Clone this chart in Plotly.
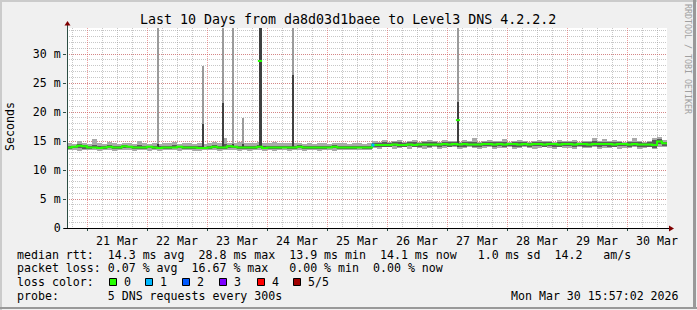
import plotly.graph_objects as go
import pandas as pd

# ---------------- data ----------------
TITLE = "Last 10 Days from da8d03d1baee to Level3 DNS 4.2.2.2"
START = "2026-03-20 16:00"
END = "2026-03-30 16:00"
STEP = "2h"

Y_TICKS = [0, 5, 10, 15, 20, 25, 30]
Y_TICK_TEXT = ["0", "5 m", "10 m", "15 m", "20 m", "25 m", "30 m"]

# median rtt (ms), one value per 2 hours
median = [
    13.9, 14.0, 14.2, 14.1, 13.9, 13.9, 13.8, 13.9, 14.0, 13.9, 13.9, 14.1,
    14.0, 13.9, 13.9, 13.9, 14.0, 13.9, 13.8, 13.9, 13.9, 13.9, 14.0, 13.9,
    13.9, 13.9, 13.8, 13.8, 13.9, 14.0, 13.9, 13.9, 14.1, 14.0, 13.9, 13.9,
    13.9, 13.9, 14.0, 13.8, 13.9, 13.9, 13.9, 13.9, 13.9, 13.9, 14.0, 13.9,
    13.9, 13.9, 13.9, 13.9, 13.9, 14.0, 13.9, 13.9, 13.9, 13.9, 13.9, 13.9,
    13.9, 14.3, 14.3, 14.3, 14.3, 14.4, 14.3, 14.3, 14.4, 14.3, 14.4, 14.4,
    14.4, 14.4, 14.4, 14.5, 14.4, 14.5, 14.4, 14.5, 14.4, 14.4, 14.4, 14.5,
    14.5, 14.4, 14.5, 14.4, 14.5, 14.5, 14.4, 14.5, 14.4, 14.5, 14.5, 14.4,
    14.5, 14.5, 14.4, 14.5, 14.5, 14.4, 14.5, 14.5, 14.4, 14.5, 14.5, 14.5,
    14.5, 14.4, 14.5, 14.5, 14.4, 14.5, 14.4, 14.4, 14.4, 14.3, 14.9, 14.6,
]
# outer smoke (fastest / slowest ping)
smoke_lo_outer = [
    13.4, 13.5, 13.3, 13.5, 13.4, 13.4, 13.3, 13.5, 13.4, 13.3, 13.5, 13.4,
    13.4, 13.3, 13.5, 13.4, 13.3, 13.4, 13.3, 13.5, 13.4, 13.4, 13.3, 13.4,
    13.5, 13.3, 13.3, 13.4, 13.4, 13.5, 13.3, 13.4, 13.4, 13.5, 13.3, 13.4,
    13.3, 13.4, 13.5, 13.3, 13.4, 13.3, 13.4, 13.5, 13.3, 13.4, 13.4, 13.3,
    13.4, 13.5, 13.3, 13.4, 13.4, 13.3, 13.5, 13.4, 13.4, 13.5, 13.4, 13.5,
    13.4, 13.8, 13.7, 13.9, 13.9, 13.7, 13.8, 13.9, 13.7, 13.9, 13.8, 13.7,
    13.8, 13.9, 13.7, 13.8, 13.9, 13.9, 13.7, 13.8, 13.9, 13.8, 13.7, 13.8,
    13.9, 13.7, 13.8, 13.8, 13.9, 13.7, 13.8, 13.9, 13.8, 13.7, 13.8, 13.9,
    13.8, 13.7, 13.9, 13.8, 13.8, 13.7, 13.9, 13.8, 13.8, 13.9, 13.7, 13.8,
    13.8, 13.9, 13.7, 13.8, 13.8, 13.9, 13.7, 13.8, 13.9, 13.7, 14.0, 13.9,
]
smoke_hi_outer = [
    14.6, 14.5, 15.0, 14.7, 14.5, 15.4, 14.6, 14.5, 14.8, 14.6, 14.5, 14.7,
    14.6, 14.5, 15.0, 14.6, 14.5, 14.7, 14.5, 14.6, 14.6, 14.8, 14.5, 14.6,
    14.6, 14.5, 14.7, 14.5, 14.6, 14.9, 14.6, 15.5, 14.7, 14.6, 14.8, 14.6,
    14.7, 14.6, 14.9, 14.6, 14.6, 14.8, 14.7, 14.6, 14.6, 14.7, 14.6, 14.5,
    14.6, 14.5, 14.7, 14.6, 14.5, 14.6, 14.6, 14.7, 14.5, 14.6, 14.6, 14.5,
    14.6, 15.0, 14.9, 15.1, 14.9, 15.0, 15.2, 14.9, 15.0, 15.1, 14.9, 15.0,
    15.1, 15.0, 14.9, 15.2, 15.0, 15.0, 14.9, 15.1, 15.0, 15.5, 14.9, 15.0,
    15.1, 15.0, 15.0, 15.3, 14.9, 15.0, 15.1, 15.0, 14.9, 15.0, 15.1, 15.0,
    15.0, 14.9, 15.1, 15.0, 15.0, 15.1, 14.9, 15.0, 15.0, 15.5, 15.0, 15.4,
    15.0, 15.1, 15.0, 14.9, 15.0, 15.5, 15.0, 14.9, 15.0, 15.6, 15.7, 15.1,
]
# inner smoke (2nd / 4th ping)
smoke_lo_inner = [
    13.7, 13.8, 13.8, 13.7, 13.7, 13.8, 13.6, 13.7, 13.8, 13.7, 13.7, 13.8,
    13.8, 13.7, 13.7, 13.7, 13.8, 13.7, 13.6, 13.7, 13.7, 13.8, 13.8, 13.7,
    13.7, 13.7, 13.6, 13.6, 13.7, 13.8, 13.7, 13.7, 13.8, 13.8, 13.7, 13.7,
    13.7, 13.7, 13.8, 13.6, 13.7, 13.7, 13.7, 13.8, 13.7, 13.7, 13.8, 13.7,
    13.7, 13.7, 13.7, 13.7, 13.8, 13.8, 13.7, 13.7, 13.7, 13.7, 13.8, 13.7,
    13.7, 14.0, 13.9, 14.0, 14.0, 14.1, 13.9, 14.0, 14.1, 13.9, 14.0, 14.1,
    14.0, 14.1, 14.0, 14.1, 14.0, 14.1, 14.0, 14.0, 14.1, 14.0, 14.0, 14.1,
    14.1, 14.0, 14.1, 14.0, 14.1, 14.0, 14.0, 14.1, 14.0, 14.1, 14.1, 14.0,
    14.1, 14.0, 14.0, 14.1, 14.1, 14.0, 14.1, 14.0, 14.0, 14.1, 14.0, 14.1,
    14.0, 14.0, 14.1, 14.1, 14.0, 14.1, 14.0, 14.0, 14.0, 13.8, 14.4, 14.1,
]
smoke_hi_inner = [
    14.2, 14.2, 14.4, 14.3, 14.1, 14.3, 14.1, 14.2, 14.3, 14.2, 14.1, 14.3,
    14.2, 14.1, 14.3, 14.1, 14.2, 14.2, 14.1, 14.2, 14.1, 14.3, 14.2, 14.1,
    14.2, 14.1, 14.2, 14.0, 14.1, 14.3, 14.1, 14.4, 14.3, 14.2, 14.2, 14.1,
    14.2, 14.1, 14.3, 14.1, 14.2, 14.2, 14.1, 14.2, 14.1, 14.2, 14.3, 14.1,
    14.1, 14.2, 14.1, 14.2, 14.2, 14.3, 14.1, 14.2, 14.1, 14.1, 14.2, 14.1,
    14.1, 14.7, 14.7, 14.8, 14.7, 14.8, 14.8, 14.7, 14.8, 14.8, 14.7, 14.8,
    14.8, 14.8, 14.7, 14.9, 14.8, 14.8, 14.7, 14.8, 14.8, 14.9, 14.7, 14.8,
    14.9, 14.8, 14.8, 14.9, 14.7, 14.8, 14.9, 14.8, 14.7, 14.8, 14.9, 14.8,
    14.8, 14.7, 14.9, 14.8, 14.8, 14.9, 14.7, 14.8, 14.8, 15.0, 14.8, 14.9,
    14.8, 14.9, 14.8, 14.7, 14.8, 14.9, 14.8, 14.7, 14.8, 15.2, 15.3, 14.8,
]

# short latency spikes
spike_time = ["2026-03-22 04:24", "2026-03-22 22:24", "2026-03-23 06:24",
              "2026-03-23 10:24", "2026-03-23 14:24", "2026-03-23 21:12",
              "2026-03-24 10:24", "2026-03-27 04:24"]
spike_outer = [40.0, 28.0, 40.0, 40.0, 19.0, 40.0, 40.0, 40.0]
spike_inner = [14.5, 17.9, 21.5, 14.5, 14.5, 40.0, 26.3, 21.8]
spike_median = [None, None, None, None, None, 28.8, None, 18.6]
spike_wide = [False, False, False, False, False, True, False, False]

loss_time = ["2026-03-25 18:24"]
loss_value = [14.3]

LEGEND_ROW1 = "median rtt:  14.3 ms avg  28.8 ms max  13.9 ms min  14.1 ms now   1.0 ms sd  14.2   am/s"
LEGEND_ROW2 = "packet loss: 0.07 % avg  16.67 % max   0.00 % min  0.00 % now"
LOSS_TITLE = "loss color:"
LOSS_LABELS = ["0", "1", "2", "3", "4", "5/5"]
LOSS_COLORS = ["#26ff00", "#00b8ff", "#0059ff", "#7e00ff", "#ff0000", "#a00000"]
LOSS_BOX_X = [109, 145, 182, 219, 257, 293]
PROBE_ROW = "probe:       5 DNS requests every 300s"
DATE_TEXT = "Mon Mar 30 15:57:02 2026"
SIDE_TEXT = "RRDTOOL / TOBI OETIKER"

# ---------------- layout helpers ----------------
W, H = 697, 310
L, R, T, B = 67, 30, 28, 82
PW, PH = W - L - R, H - T - B
MONO = "DejaVu Sans Mono"
FS = 11.6


def px(x):
    return (x - L) / PW


def py(y):
    return (H - B - y) / PH


def keep_spaces(s):
    return s.replace(" ", "\u00a0")


HOUR = 3600 * 1000
starts = pd.date_range(START, periods=len(median), freq=STEP)
centers = starts + pd.Timedelta(hours=1)
bar_w = 2 * HOUR

fig = go.Figure()

fig.add_trace(go.Bar(
    x=centers, base=smoke_lo_outer,
    y=[h - l for h, l in zip(smoke_hi_outer, smoke_lo_outer)],
    width=bar_w, marker=dict(color="#a9a9a9", line_width=0), hoverinfo="skip"))
fig.add_trace(go.Bar(
    x=centers, base=smoke_lo_inner,
    y=[h - l for h, l in zip(smoke_hi_inner, smoke_lo_inner)],
    width=bar_w, marker=dict(color="#5c5c5c", line_width=0), hoverinfo="skip"))

spike_w = [1.2 * HOUR if w else 0.45 * HOUR for w in spike_wide]
spike_base = 14.0
fig.add_trace(go.Bar(
    x=pd.to_datetime(spike_time), base=spike_base,
    y=[v - spike_base for v in spike_outer], width=spike_w,
    marker=dict(color="#9a9a9a", line_width=0), hoverinfo="skip"))
fig.add_trace(go.Bar(
    x=pd.to_datetime(spike_time), base=spike_base,
    y=[v - spike_base for v in spike_inner], width=spike_w,
    marker=dict(color="#404040", line_width=0), hoverinfo="skip"))

fig.add_trace(go.Scatter(
    x=list(starts) + [pd.Timestamp(END)], y=median + [median[-1]],
    mode="lines", line=dict(color="#26ff00", width=2, shape="hv"),
    hoverinfo="skip"))
fig.add_trace(go.Scatter(
    x=pd.to_datetime(spike_time), y=spike_median, mode="markers",
    marker=dict(symbol="line-ew", size=3, line=dict(color="#26ff00", width=2)),
    hoverinfo="skip"))
fig.add_trace(go.Scatter(
    x=pd.to_datetime(loss_time), y=loss_value, mode="markers",
    marker=dict(symbol="square", size=3, color="#00b8ff", line_width=0),
    hoverinfo="skip"))

fig.update_layout(
    width=W, height=H, margin=dict(l=L, r=R, t=T, b=B, pad=0),
    paper_bgcolor="#f0f0f0", plot_bgcolor="#ffffff",
    showlegend=False, barmode="overlay", bargap=0,
    font=dict(family=MONO, size=FS, color="#000000"),
)

fig.update_xaxes(
    type="date", range=[START, END], fixedrange=True,
    tick0="2026-03-21", dtick=24 * HOUR, tickformat="%d %b",
    ticklabelmode="period", ticks="outside", ticklen=2, tickcolor="#2c4d43",
    tickfont=dict(family=MONO, size=FS, color="#000000"),
    showgrid=True, gridcolor="rgba(222,80,80,0.55)", griddash="1px,1px", gridwidth=1,
    minor=dict(dtick=6 * HOUR, showgrid=True, gridcolor="rgba(143,143,143,0.5)",
               griddash="1px,1px", gridwidth=1, ticks=""),
    showline=False, zeroline=False,
)
fig.update_yaxes(
    range=[0, (H - B - T) / 5.8], fixedrange=True,
    tickvals=Y_TICKS, ticktext=Y_TICK_TEXT,
    ticks="outside", ticklen=3, tickcolor="#2c4d43",
    tickfont=dict(family=MONO, size=FS, color="#000000"),
    showgrid=True, gridcolor="rgba(222,80,80,0.55)", griddash="1px,1px", gridwidth=1,
    minor=dict(dtick=1, showgrid=True, gridcolor="rgba(143,143,143,0.5)",
               griddash="1px,1px", gridwidth=1, ticks=""),
    showline=False, zeroline=False,
)

shapes = []
# frame (3D border)
shapes.append(dict(type="rect", xref="paper", yref="paper", x0=px(0), x1=px(W), y0=py(0), y1=py(2),
                   fillcolor="#cbcbcb", line_width=0, layer="above"))
shapes.append(dict(type="rect", xref="paper", yref="paper", x0=px(0), x1=px(2), y0=py(0), y1=py(H),
                   fillcolor="#cbcbcb", line_width=0, layer="above"))
shapes.append(dict(type="rect", xref="paper", yref="paper", x0=px(0), x1=px(W), y0=py(307), y1=py(309),
                   fillcolor="#999999", line_width=0, layer="above"))
shapes.append(dict(type="rect", xref="paper", yref="paper", x0=px(693), x1=px(696), y0=py(0), y1=py(309),
                   fillcolor="#999999", line_width=0, layer="above"))
# axes
shapes.append(dict(type="line", xref="paper", yref="paper", x0=px(67.5), x1=px(67.5), y0=py(228), y1=py(24),
                   line=dict(color="#2c4d43", width=1), layer="above"))
shapes.append(dict(type="line", xref="paper", yref="paper", x0=px(64), x1=px(670), y0=py(228.5), y1=py(228.5),
                   line=dict(color="#000000", width=1), layer="above"))
# arrow heads
shapes.append(dict(type="path", xref="paper", yref="paper",
                   path=f"M {px(64.5)},{py(25.5)} L {px(70.5)},{py(25.5)} L {px(67.5)},{py(21)} Z",
                   fillcolor="#7f0000", line_width=0, layer="above"))
shapes.append(dict(type="path", xref="paper", yref="paper",
                   path=f"M {px(669)},{py(225.5)} L {px(669)},{py(231.5)} L {px(674)},{py(228.5)} Z",
                   fillcolor="#7f0000", line_width=0, layer="above"))
# loss colour boxes
for bx, col in zip(LOSS_BOX_X, LOSS_COLORS):
    shapes.append(dict(type="rect", xref="paper", yref="paper",
                       x0=px(bx + 0.5), x1=px(bx + 7.5), y0=py(278.5), y1=py(285.5),
                       fillcolor=col, line=dict(color="#000000", width=1), layer="above"))
fig.update_layout(shapes=shapes)

ann = []


def text(t, x, y, anchor="left", size=FS, color="#000000", angle=0):
    ann.append(dict(text=keep_spaces(t), x=px(x), y=py(y), xref="paper", yref="paper",
                    xanchor=anchor, yanchor="middle", showarrow=False,
                    borderpad=0, textangle=angle,
                    font=dict(family=MONO, size=size, color=color)))


text(TITLE, 348, 19, anchor="center", size=13.3)
text("Seconds", 10, 127, anchor="center", angle=-90)
text(SIDE_TEXT, 688, 59, anchor="center", size=8.3, color="#a0a0a0", angle=90)
text(LEGEND_ROW1, 16, 255)
text(LEGEND_ROW2, 16, 268)
text(LOSS_TITLE, 16, 282)
for lbl, bx in zip(LOSS_LABELS, LOSS_BOX_X):
    text(lbl, bx + 14, 282)
text(PROBE_ROW, 16, 296)
text(DATE_TEXT, 680, 296, anchor="right")
fig.update_layout(annotations=ann)

fig.write_html("out.html")
